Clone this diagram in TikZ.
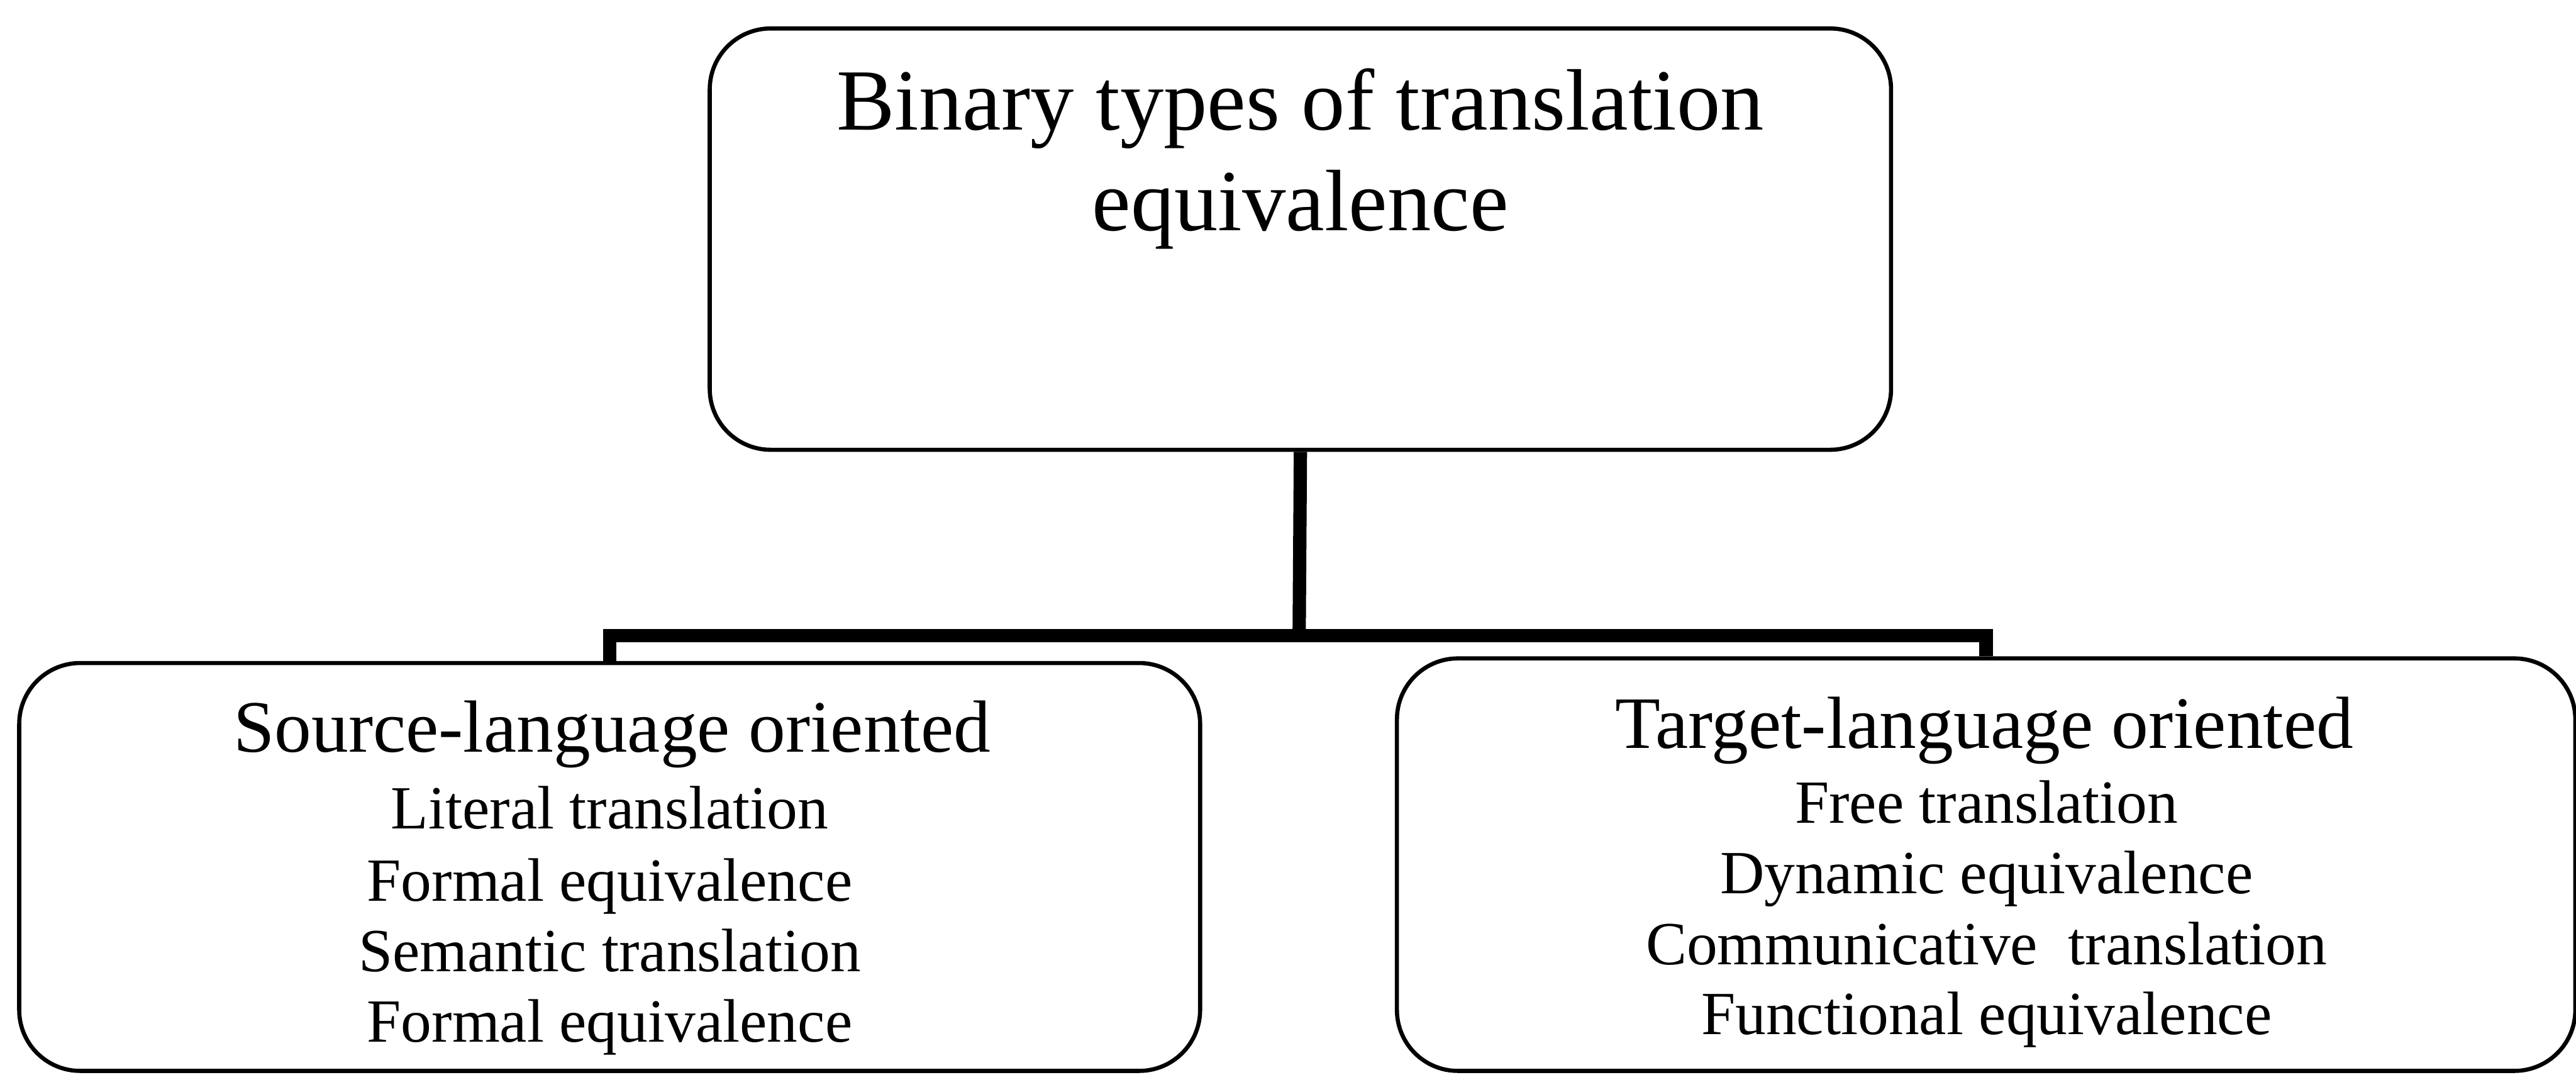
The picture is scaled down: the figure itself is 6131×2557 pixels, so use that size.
\documentclass[tikz,border=0pt]{standalone}
\usepackage{fontspec}
\setmainfont{Liberation Serif}
\tikzset{
  box/.style={draw=black, line width=2.8pt, rounded corners=1.45cm, inner sep=0pt, fill=none},
  conn/.style={draw=black, line width=9pt, line join=miter, line cap=butt},
  ttl/.style={anchor=base, inner sep=0pt, font=\fontsize{59}{67}\selectfont},
  hdr/.style={anchor=base, inner sep=0pt, font=\fontsize{50}{58}\selectfont},
  itm/.style={anchor=base, inner sep=0pt, font=\fontsize{41.5}{48}\selectfont},
}
\begin{document}
\begin{tikzpicture}[x=0.01cm, y=-0.01cm]
\useasboundingbox (0,0) rectangle (6131,2557);
% boxes
\node[box, minimum width=28.10cm, minimum height=10.02cm] (top) at (3095,569) {};
\node[box, minimum width=28.09cm, minimum height=9.70cm] (left) at (1451,2063) {};
\node[box, minimum width=28.03cm, minimum height=9.81cm] (right) at (4727,2057.5) {};
% connectors
\coordinate (jm) at (3092,1512);
\draw[conn] (top.south) -- (jm);
\draw[conn] (left.north) -- (left.north |- jm) -- (right.north |- jm) -- (right.north);
% title text
\node[ttl] (t1) at (3095,309) {Binary types of translation};
\node[ttl] (t2) at (3095,549) {equivalence};
% left text
\node[hdr] (s0) at (1457,1790) {Source-language oriented};
\node[itm] (s1) at (1451,1972) {Literal translation};
\node[itm] (s2) at (1451,2144) {Formal equivalence};
\node[itm] (s3) at (1451,2312) {Semantic translation};
\node[itm] (s4) at (1451,2480) {Formal equivalence};
% right text
\node[hdr] (r0) at (4723,1781) {Target-language oriented};
\node[itm] (r1) at (4728,1958) {Free translation};
\node[itm] (r2) at (4728,2126) {Dynamic equivalence};
\node[itm] (r3) at (4728,2296) {Communicative\ \ translation};
\node[itm] (r4) at (4728,2462) {Functional equivalence};
\end{tikzpicture}
\end{document}
